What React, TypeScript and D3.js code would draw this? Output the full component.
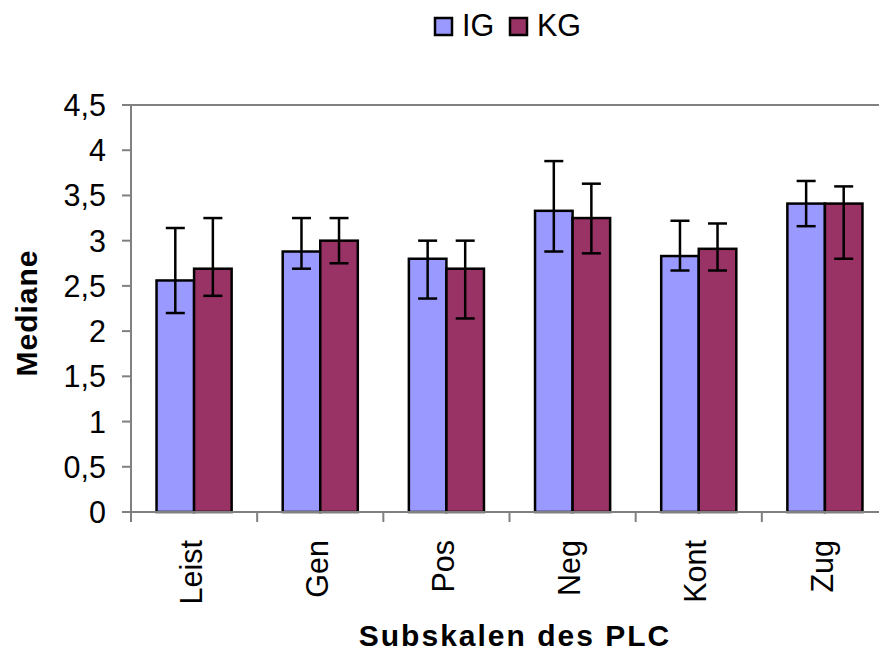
import React from "react";
import * as d3 from "d3";

const categories = ["Leist", "Gen", "Pos", "Neg", "Kont", "Zug"];
const seriesNames = ["IG", "KG"];
const igValues = [2.56, 2.88, 2.8, 3.33, 2.83, 3.41];
const kgValues = [2.69, 3.0, 2.69, 3.25, 2.91, 3.41];
const igLow = [2.2, 2.69, 2.36, 2.88, 2.67, 3.16];
const igHigh = [3.14, 3.25, 3.0, 3.88, 3.22, 3.66];
const kgLow = [2.39, 2.75, 2.14, 2.86, 2.67, 2.8];
const kgHigh = [3.25, 3.25, 3.0, 3.63, 3.19, 3.6];
const yTicks = [0, 0.5, 1, 1.5, 2, 2.5, 3, 3.5, 4, 4.5];
const colors = ["#9999FF", "#993366"];

const W = 879;
const H = 651;
const left = 131;
const right = 888;
const top = 105;
const bottom = 512;
const FONT = "Liberation Sans, Arial, sans-serif";

export default function App() {
  const x = d3.scaleBand<string>().domain(categories).range([left, right]).paddingInner(0).paddingOuter(0);
  const y = d3.scaleLinear().domain([0, 4.5]).range([bottom, top]);
  const inner = d3
    .scaleBand<string>()
    .domain(seriesNames)
    .range([0, x.bandwidth()])
    .paddingInner(0)
    .paddingOuter(0.68);
  const series = [
    { name: "IG", values: igValues, low: igLow, high: igHigh },
    { name: "KG", values: kgValues, low: kgLow, high: kgHigh },
  ];
  const fmt = (v: number) => String(v).replace(".", ",");
  const boundaries = d3.range(categories.length + 1).map((i) => left + i * x.step());

  return (
    <svg
      width={W}
      height={H}
      style={{ position: "absolute", left: 0, top: 0, background: "#fff" }}
      fontFamily={FONT}
    >
      {/* top border */}
      <line x1={left} x2={right} y1={top} y2={top} stroke="#808080" strokeWidth={2} />
      {/* bars */}
      {series.map((s, si) =>
        categories.map((c, i) => {
          const bx = (x(c) as number) + (inner(s.name) as number);
          const bw = inner.bandwidth();
          const by = y(s.values[i]);
          return (
            <rect
              key={s.name + c}
              x={bx}
              y={by}
              width={bw}
              height={bottom - by}
              fill={colors[si]}
              stroke="#000"
              strokeWidth={2.5}
            />
          );
        })
      )}
      {/* error bars */}
      {series.map((s) =>
        categories.map((c, i) => {
          const cx = (x(c) as number) + (inner(s.name) as number) + inner.bandwidth() / 2;
          const y1 = y(s.high[i]);
          const y2 = y(s.low[i]);
          return (
            <g key={"e" + s.name + c} stroke="#000" strokeWidth={2.5}>
              <line x1={cx} x2={cx} y1={y1} y2={y2} />
              <line x1={cx - 9.5} x2={cx + 9.5} y1={y1} y2={y1} />
              <line x1={cx - 9.5} x2={cx + 9.5} y1={y2} y2={y2} />
            </g>
          );
        })
      )}
      {/* y axis */}
      <line x1={left} x2={left} y1={top} y2={bottom} stroke="#808080" strokeWidth={2} />
      {yTicks.map((t) => (
        <g key={t}>
          <line x1={left - 9} x2={left} y1={y(t)} y2={y(t)} stroke="#808080" strokeWidth={2} />
          <text x={106} y={y(t)} dy="0.36em" textAnchor="end" fontSize={30.5} fill="#000">
            {fmt(t)}
          </text>
        </g>
      ))}
      {/* x axis */}
      <line x1={left} x2={right} y1={bottom} y2={bottom} stroke="#808080" strokeWidth={2} />
      {boundaries.map((bx, i) => (
        <line key={i} x1={bx} x2={bx} y1={bottom} y2={bottom + 10} stroke="#808080" strokeWidth={2} />
      ))}
      {categories.map((c) => {
        const cx = (x(c) as number) + x.bandwidth() / 2;
        return (
          <text
            key={c}
            transform={`translate(${cx},540) rotate(-90)`}
            dy="0.25em"
            textAnchor="end"
            fontSize={30.5}
            fill="#000"
          >
            {c}
          </text>
        );
      })}
      {/* axis titles */}
      <text
        transform="translate(37,313) rotate(-90)"
        textAnchor="middle"
        fontSize={30}
        fontWeight="bold"
        letterSpacing={1}
        fill="#000"
      >
        Mediane
      </text>
      <text x={515} y={646} textAnchor="middle" fontSize={30} fontWeight="bold" letterSpacing={2} fill="#000">
        Subskalen des PLC
      </text>
      {/* legend */}
      {seriesNames.map((n, i) => {
        const lx = [435, 510][i];
        return (
          <g key={n}>
            <rect x={lx} y={18} width={17} height={17} fill={colors[i]} stroke="#000" strokeWidth={2.5} />
            <text x={lx + 27} y={36} fontSize={30.5} fill="#000">
              {n}
            </text>
          </g>
        );
      })}
    </svg>
  );
}
